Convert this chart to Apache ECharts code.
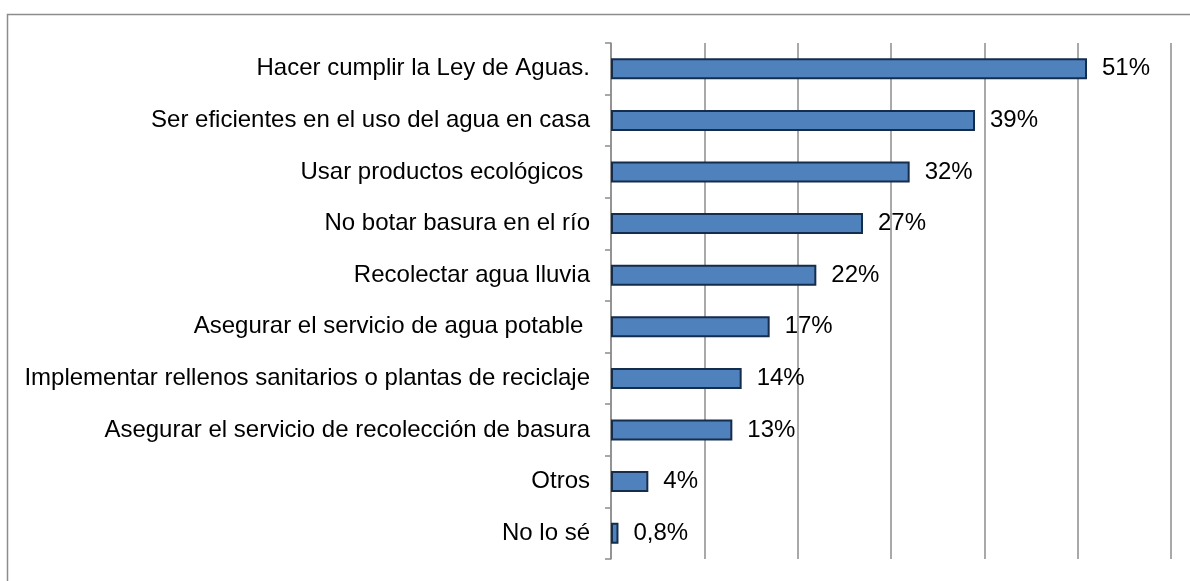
<!DOCTYPE html>
<html>
<head>
<meta charset="utf-8">
<script src="https://cdn.jsdelivr.net/npm/echarts@6/dist/echarts.min.js"></script>
<style>
  html, body { margin: 0; padding: 0; background: #fff; }
  #chart { width: 1190px; height: 581px; }
</style>
</head>
<body>
<div id="chart"></div>
<script>
// datos
const categorias = [
  "Hacer cumplir la Ley de Aguas.",
  "Ser eficientes en el uso del agua en casa",
  "Usar productos ecológicos ",
  "No botar basura en el río",
  "Recolectar agua lluvia",
  "Asegurar el servicio de agua potable ",
  "Implementar rellenos sanitarios o plantas de reciclaje",
  "Asegurar el servicio de recolección de basura",
  "Otros",
  "No lo sé"
];
const porcentajes = [51, 39, 32, 27, 22, 17, 14, 13, 4, 0.8];

const chart = echarts.init(document.getElementById("chart"));
const option = {
  animation: false,
  textStyle: { fontFamily: "Liberation Sans, Arial, sans-serif" },
  graphic: [
    {
      type: "rect",
      shape: { x: 7.5, y: 14.5, width: 1300, height: 700 },
      style: { fill: "none", stroke: "#8c8c8c", lineWidth: 1.5 },
      silent: true
    }
  ],
  grid: { left: 611, right: 19, top: 43, bottom: 22 },
  xAxis: {
    type: "value",
    min: 0,
    max: 60,
    interval: 10,
    axisLine: { show: false },
    axisTick: { show: false },
    axisLabel: { show: false },
    splitLine: { show: true, lineStyle: { color: "#8c8c8c", width: 1.5 } }
  },
  yAxis: {
    type: "category",
    inverse: true,
    data: categorias,
    axisLine: { show: true, lineStyle: { color: "#8c8c8c", width: 1.5 } },
    axisTick: { show: true, length: 6, lineStyle: { color: "#8c8c8c", width: 1.5 } },
    axisLabel: { color: "#000", fontSize: 24, margin: 21 }
  },
  series: [
    {
      type: "bar",
      data: porcentajes,
      barWidth: 21,
      itemStyle: { color: "#4f81bd", borderColor: "#152d4d", borderWidth: 2 },
      label: {
        show: true,
        position: "right",
        distance: 15,
        color: "#000",
        fontSize: 24,
        formatter: function (p) {
          return String(p.value).replace(".", ",") + "%";
        }
      }
    }
  ]
};
chart.setOption(option);
</script>
</body>
</html>
